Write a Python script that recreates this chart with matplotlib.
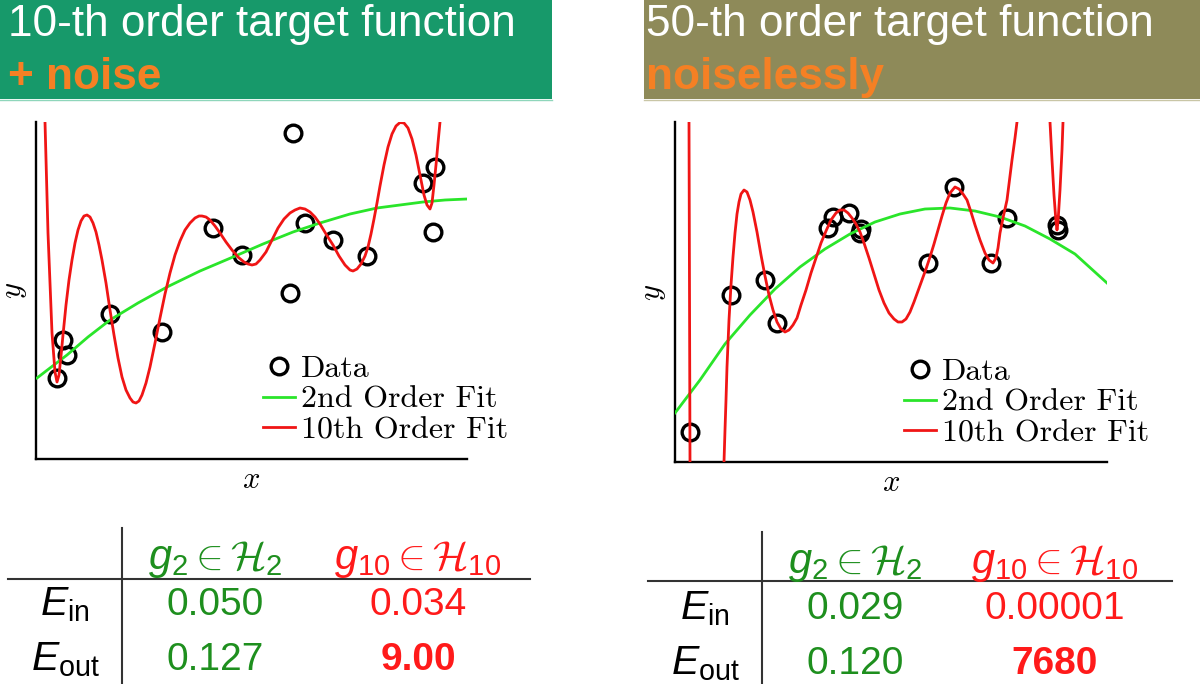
import matplotlib
matplotlib.use("Agg")
import matplotlib.pyplot as plt
from matplotlib.font_manager import FontProperties
from matplotlib.patches import Rectangle

plt.rcParams["mathtext.fontset"] = "cm"
# sans fonts for the table formulas (used via math_fontfamily="custom")
plt.rcParams["mathtext.rm"] = "Liberation Sans"
plt.rcParams["mathtext.it"] = "Liberation Sans:italic"
plt.rcParams["mathtext.cal"] = "cmsy10"

W, H = 1200, 684

# values (image pixel units, y grows downward)
# left panel: 10-th order target + noise
left_data_x = [57, 63, 67, 110, 162, 213, 242, 290, 293, 305, 333, 367, 423, 433, 435]
left_data_y = [378, 340, 355, 314, 332, 228, 255, 293, 133, 223, 240, 256, 183, 232, 167]

left_fit2_x = [37, 50, 67, 88, 110, 138, 167, 200, 233, 263, 293, 320, 350, 377, 400, 423, 445, 467]
left_fit2_y = [378, 368, 355, 337, 320, 303, 287, 271, 257, 244, 232, 223, 214, 208, 205, 202, 200, 199]

left_fit10_x = [44, 45, 48, 52, 55, 57, 59, 61, 63, 66, 69, 72, 75, 78, 81, 84, 87, 90, 93, 96,
                99, 102, 106, 110, 114, 118, 122, 126, 130, 133, 136, 139, 142, 146, 150, 155,
                160, 165, 170, 175, 180, 185, 190, 195, 199, 202, 206, 210, 215, 220, 226, 232,
                238, 244, 248, 252, 256, 260, 266, 272, 278, 284, 290, 295, 300, 305, 310, 315,
                320, 326, 333, 339, 345, 350, 353, 357, 361, 365, 368, 371, 374, 377, 380, 384,
                388, 392, 396, 400, 404, 408, 412, 416, 420, 424, 427, 430, 432, 434, 436, 438,
                440, 441]
left_fit10_y = [100, 122, 233, 333, 372, 382, 375, 356, 335, 305, 280, 260, 243, 230, 221, 216, 215, 217, 223, 232,
                245, 260, 283, 310, 335, 358, 377, 390, 398, 402, 403, 401, 395, 383, 367, 343,
                318, 294, 273, 255, 241, 230, 223, 218, 216, 216, 217, 220, 226, 233, 242, 250,
                257, 262, 264, 265, 264, 260, 252, 240, 228, 219, 213, 210, 208, 209, 212, 217,
                224, 234, 245, 256, 265, 270, 271, 269, 264, 256, 247, 234, 219, 203, 186, 165,
                147, 134, 126, 122.5, 123, 128, 139, 155, 175, 195, 205, 209, 203, 185, 165, 143,
                122, 108]

# right panel: 50-th order target, noiseless
right_data_x = [690, 731, 765, 777, 828, 833, 849, 860, 861, 928, 954, 991, 1007, 1057, 1058]
right_data_y = [432, 295, 280, 323, 228, 217, 213, 233, 229, 263, 187, 263, 218, 225, 230]

right_fit2_x = [675, 700, 725, 750, 775, 800, 825, 850, 875, 900, 925, 950, 975, 1000, 1025, 1050, 1075, 1107]
right_fit2_y = [413, 380, 344, 315, 289, 267, 249, 234, 222, 214, 209, 208, 211, 217, 226, 239, 254, 283]

right_fit10_x = [688, 689, 690, 691, 700, 718, 724, 725, 726, 727, 729, 731, 733, 735, 737, 739,
                 741, 744, 747, 750, 753, 757, 761, 765, 769, 773, 777, 781, 785, 789, 793,
                 797, 801, 806, 811, 816, 821, 826, 831, 836, 840, 844, 848, 852, 856, 860,
                 864, 869, 874, 879, 884, 889, 894, 898, 902, 906, 910, 914, 918, 922, 926,
                 930, 934, 938, 942, 946, 950, 955, 959, 963, 967, 971, 975, 980, 985, 989,
                 993, 996, 998, 1000, 1003, 1007, 1010, 1012, 1015, 1017, 1019, 1034, 1049,
                 1050, 1052, 1054, 1056, 1057, 1058, 1060, 1062, 1063, 1064]
right_fit10_y = [100, 122, 462, 500, 600, 600, 462, 430, 400, 367, 320, 285, 257, 233, 214, 202,
                 194, 190, 192, 200, 212, 232, 255, 276, 295, 310, 322, 329, 332, 330, 325,
                 318, 305, 290, 273, 258, 243, 231, 220, 213, 210, 210, 213, 218, 224, 232,
                 243, 258, 274, 290, 303, 313, 319, 322, 322, 319, 312, 302, 291, 280, 269,
                 257, 244, 230, 216, 203, 193, 187, 189, 194, 200, 212, 225, 240, 253, 260,
                 263, 258, 248, 233, 218, 200, 176, 160, 138, 122, 100, -100, 100,
                 122, 160, 195, 222, 230, 222, 190, 150, 122, 100]

legend_labels = ["Data", "2nd Order Fit", "10th Order Fit"]

# tables
col_headers = [r"$g_2 \in \mathcal{H}_2$", r"$g_{10} \in \mathcal{H}_{10}$"]
row_headers = [r"$E_{\mathrm{in}}$", r"$E_{\mathrm{out}}$"]
left_ein = ["0.050", "0.034"]
left_eout = ["0.127", "9.00"]
right_ein = ["0.029", "0.00001"]
right_eout = ["0.120", "7680"]

GREEN_HDR = "#17996A"
OLIVE_HDR = "#8E8A59"
ORANGE = "#F58024"
TAB_GREEN = "#1E8F1E"
TAB_RED = "#FF1A1A"
CURVE_GREEN = "#2AE52A"
CURVE_RED = "#F01515"

fig = plt.figure(figsize=(12, 6.84), dpi=100)

ov = fig.add_axes([0, 0, 1, 1])
ov.set_xlim(0, W)
ov.set_ylim(H, 0)
ov.axis("off")

# header boxes
ov.add_patch(Rectangle((0, 0), 552, 99, color=GREEN_HDR, lw=0))
ov.plot([0, 552], [99.5, 99.5], color="#8fd6bb", lw=1)
ov.add_patch(Rectangle((644, 0), 556, 99, color=OLIVE_HDR, lw=0))
ov.plot([644, 1200], [99.5, 99.5], color="#c9c6a6", lw=1)

hdr = dict(family="Liberation Sans", fontsize=31.8, va="baseline")
ov.text(8, 36, "10-th order target function", color="white", **hdr)
ov.text(8, 89, "+ noise", color=ORANGE, fontweight="bold", **hdr)
ov.text(646, 36, "50-th order target function", color="white", **hdr)
ov.text(646, 89, "noiselessly", color=ORANGE, fontweight="bold", **hdr)


def draw_table(vx, vy0, vy1, hy, hx0, hx1, lab_cx, col_cx, hdr_base, row_base, rows):
    ov.plot([vx, vx], [vy0, vy1], color="#333333", lw=1.5)
    ov.plot([hx0, hx1], [hy, hy], color="#333333", lw=1.5)
    colors = [TAB_GREEN, TAB_RED]
    for j in range(2):
        ov.text(col_cx[j], hdr_base, col_headers[j], color=colors[j], fontsize=30,
                ha="center", va="baseline", math_fontfamily="custom")
    for i in range(2):
        ov.text(lab_cx, row_base[i], row_headers[i], color="black", fontsize=29.5,
                ha="center", va="baseline", math_fontfamily="custom")
        for j in range(2):
            bold = (i == 1 and j == 1)
            ov.text(col_cx[j], row_base[i], rows[i][j], color=colors[j], fontsize=28,
                    family="Liberation Sans", fontweight="bold" if bold else "normal",
                    ha="center", va="baseline")


draw_table(122, 528, 684, 579, 8, 530, 65, [215, 418], 569, [615, 670],
           [left_ein, left_eout])
draw_table(762, 532, 684, 581, 648, 1172, 705, [855, 1055], 573, [619, 674],
           [right_ein, right_eout])


def panel(box, xs, ys, g2x, g2y, g10x, g10y, leg_anchor):
    x0, y0, x1, y1 = box
    ax = fig.add_axes([x0 / W, 1 - y1 / H, (x1 - x0) / W, (y1 - y0) / H])
    ax.set_xlim(x0, x1)
    ax.set_ylim(y1, y0)
    ax.set_facecolor("none")
    for s in ["top", "right"]:
        ax.spines[s].set_visible(False)
    for s in ["left", "bottom"]:
        ax.spines[s].set_linewidth(1.7)
    ax.set_xticks([])
    ax.set_yticks([])
    hd, = ax.plot(xs, ys, "o", mfc="none", mec="black", ms=12, mew=2.4, zorder=3)
    hg, = ax.plot(g2x, g2y, color=CURVE_GREEN, lw=2.0, zorder=4)
    hr, = ax.plot(g10x, g10y, color=CURVE_RED, lw=2.0, zorder=5)
    ax.set_xlabel("$x$", fontsize=22, labelpad=4)
    ax.set_ylabel("$y$", fontsize=22, labelpad=5)
    ax.legend([hd, hg, hr], legend_labels, loc="upper left",
              bbox_to_anchor=leg_anchor, bbox_transform=ax.transData,
              frameon=False, prop=FontProperties(family="cmr10", size=23),
              handlelength=1.0, handletextpad=0.2, labelspacing=0.07,
              borderpad=0, borderaxespad=0, numpoints=1)
    return ax


panel((36, 122, 467, 459), left_data_x, left_data_y, left_fit2_x, left_fit2_y,
      left_fit10_x, left_fit10_y, (263, 355))
panel((675, 122, 1107, 462), right_data_x, right_data_y, right_fit2_x, right_fit2_y,
      right_fit10_x, right_fit10_y, (904, 358))

fig.savefig("out.png", dpi=100)
